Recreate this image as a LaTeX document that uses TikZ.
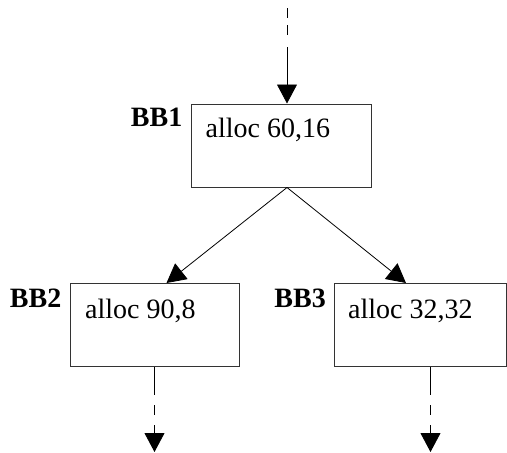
\documentclass[tikz,border=0pt]{standalone}
\usepackage{fontspec}
\setmainfont{Liberation Serif}
\usetikzlibrary{arrows.meta}
\begin{document}
\begin{tikzpicture}[x=1pt,y=-1pt,
  block/.style={draw=black!80,line width=1pt,inner sep=0pt,minimum height=83pt},
  bbname/.style={anchor=base east,inner sep=0pt,font=\fontsize{28}{30}\selectfont\bfseries},
  code/.style={anchor=base west,inner sep=0pt,font=\fontsize{28}{30}\selectfont},
  edge/.style={line width=0.8pt,-{Triangle[length=19pt,width=20pt]}},
  flowin/.style={edge,dash pattern=on 10pt off 7pt on 10pt off 12pt on 90pt},
  flowout/.style={edge,dash pattern=on 28pt off 10pt on 10pt off 10pt on 60pt}]
\useasboundingbox (0,0) rectangle (507,453);
\begin{scope}
\clip (0,0) rectangle (507,453);
% basic blocks
\node[block,minimum width=180pt] (b1) at (281,145.5) {};
\node[block,minimum width=169pt] (b2) at (154.5,325) {};
\node[block,minimum width=172pt] (b3) at (420,325) {};
% block names and contents
\node[bbname] (n1) at ([xshift=-8pt,yshift=-23pt]b1.north west) {BB1};
\node[code]   (c1) at ([xshift=15pt,yshift=-34pt]b1.north west) {alloc 60,16};
\node[bbname] (n2) at ([xshift=-8pt,yshift=-24pt]b2.north west) {BB2};
\node[code]   (c2) at ([xshift=15.5pt,yshift=-35pt]b2.north west) {alloc 90,8};
\node[bbname] (n3) at ([xshift=-7.5pt,yshift=-24pt]b3.north west) {BB3};
\node[code]   (c3) at ([xshift=14.5pt,yshift=-35pt]b3.north west) {alloc 32,32};
% control flow
\coordinate (entry) at (287,8);
\coordinate (fork) at (b1.south -| entry);
\coordinate (exit2) at ([yshift=-85pt]b2.south);
\coordinate (exit3) at ([xshift=10.5pt,yshift=-85pt]b3.south);
\draw[flowin] (entry) -- (b1.north -| entry);
\draw[edge] (fork) -- ([xshift=12pt]b2.north);
\draw[edge] (fork) -- ([xshift=-14pt]b3.north);
\draw[flowout] (b2.south) -- (exit2);
\draw[flowout] (b3.south -| exit3) -- (exit3);
\end{scope}
\end{tikzpicture}
\end{document}
